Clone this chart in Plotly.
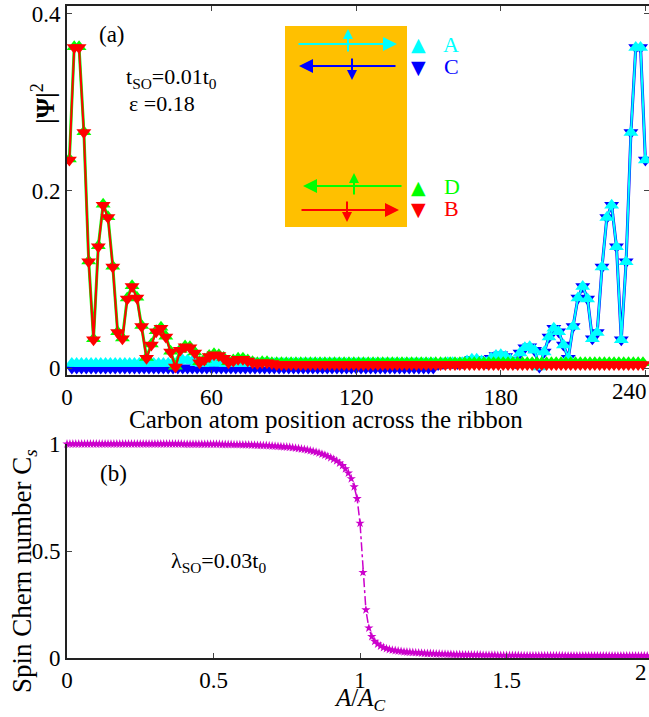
import plotly.graph_objects as go

# ---------------- data: panel (a) ----------------
atom_pos_odd = list(range(1, 240, 2))    # sites carrying B / D states
atom_pos_even = list(range(2, 241, 2))   # sites carrying A / C states

psi_B = [0.235, 0.362, 0.362, 0.266, 0.120, 0.032, 0.137, 0.184, 0.170, 0.114,
         0.040, 0.033, 0.078, 0.092, 0.079, 0.047, 0.011, 0.026, 0.041, 0.045,
         0.035, 0.018, 0.001, 0.020, 0.024, 0.023, 0.017, 0.006, 0.009, 0.013,
         0.015, 0.014, 0.011, 0.006, 0.008, 0.010, 0.010, 0.008, 0.006, 0.005,
         0.006, 0.006, 0.005, 0.004, 0.004, 0.004, 0.004, 0.004, 0.004, 0.004,
         0.004, 0.004, 0.004, 0.004, 0.004, 0.004, 0.004, 0.004, 0.004, 0.004,
         0.004, 0.004, 0.004, 0.004, 0.004, 0.004, 0.004, 0.004, 0.004, 0.004,
         0.004, 0.004, 0.004, 0.004, 0.004, 0.004, 0.004, 0.004, 0.004, 0.004,
         0.004, 0.004, 0.004, 0.004, 0.004, 0.004, 0.004, 0.004, 0.004, 0.004,
         0.004, 0.004, 0.004, 0.004, 0.004, 0.004, 0.004, 0.004, 0.004, 0.004,
         0.004, 0.004, 0.004, 0.004, 0.004, 0.004, 0.004, 0.004, 0.004, 0.004,
         0.004, 0.004, 0.004, 0.004, 0.004, 0.004, 0.004, 0.004, 0.004, 0.004]

psi_D = [0.236, 0.363, 0.363, 0.267, 0.121, 0.033, 0.138, 0.185, 0.171, 0.115,
         0.041, 0.034, 0.079, 0.093, 0.080, 0.048, 0.012, 0.027, 0.042, 0.046,
         0.036, 0.019, 0.002, 0.021, 0.025, 0.024, 0.018, 0.007, 0.010, 0.014,
         0.016, 0.015, 0.012, 0.007, 0.009, 0.011, 0.011, 0.009, 0.007, 0.006,
         0.007, 0.007, 0.006, 0.006, 0.006, 0.006, 0.006, 0.006, 0.006, 0.006,
         0.006, 0.006, 0.006, 0.006, 0.006, 0.006, 0.006, 0.006, 0.006, 0.006,
         0.006, 0.006, 0.006, 0.006, 0.006, 0.006, 0.006, 0.006, 0.006, 0.006,
         0.006, 0.006, 0.006, 0.006, 0.006, 0.006, 0.006, 0.006, 0.006, 0.006,
         0.006, 0.006, 0.006, 0.006, 0.006, 0.006, 0.006, 0.006, 0.006, 0.006,
         0.006, 0.006, 0.006, 0.006, 0.006, 0.006, 0.006, 0.006, 0.006, 0.006,
         0.006, 0.006, 0.006, 0.006, 0.006, 0.006, 0.006, 0.006, 0.006, 0.006,
         0.006, 0.006, 0.006, 0.006, 0.006, 0.006, 0.006, 0.006, 0.006, 0.006]

psi_A = [0.005, 0.005, 0.005, 0.005, 0.005, 0.005, 0.005, 0.005, 0.005, 0.005,
         0.005, 0.005, 0.005, 0.005, 0.005, 0.005, 0.005, 0.005, 0.005, 0.005,
         0.005, 0.006, 0.008, 0.009, 0.009, 0.008, 0.006, 0.005, 0.005, 0.006,
         0.006, 0.005, 0.005, 0.005, 0.005, 0.005, 0.005, 0.005, 0.005, 0.005,
         0.005, 0.005, 0.005, 0.005, 0.005, 0.005, 0.005, 0.005, 0.005, 0.005,
         0.005, 0.005, 0.005, 0.005, 0.005, 0.005, 0.005, 0.005, 0.005, 0.005,
         0.005, 0.005, 0.005, 0.005, 0.005, 0.005, 0.005, 0.005, 0.005, 0.005,
         0.005, 0.005, 0.005, 0.005, 0.005, 0.005, 0.004, 0.005, 0.006, 0.006,
         0.005, 0.006, 0.008, 0.010, 0.010, 0.008, 0.006, 0.011, 0.014, 0.015,
         0.013, 0.009, 0.006, 0.017, 0.023, 0.024, 0.020, 0.001, 0.018, 0.035,
         0.045, 0.041, 0.026, 0.011, 0.047, 0.079, 0.092, 0.078, 0.033, 0.040,
         0.114, 0.170, 0.184, 0.137, 0.032, 0.120, 0.266, 0.362, 0.362, 0.235]

psi_C = [0.000, 0.000, 0.000, 0.000, 0.000, 0.000, 0.000, 0.000, 0.000, 0.000,
         0.000, 0.000, 0.000, 0.000, 0.000, 0.000, 0.000, 0.000, 0.000, 0.000,
         0.000, 0.000, 0.000, 0.000, 0.000, 0.000, 0.000, 0.000, 0.000, 0.000,
         0.000, 0.000, 0.000, 0.000, 0.000, 0.000, 0.000, 0.000, 0.000, 0.000,
         0.000, 0.000, 0.000, 0.000, 0.000, 0.000, 0.000, 0.000, 0.000, 0.000,
         0.000, 0.000, 0.000, 0.000, 0.000, 0.000, 0.000, 0.000, 0.000, 0.000,
         0.000, 0.000, 0.000, 0.000, 0.000, 0.000, 0.000, 0.000, 0.000, 0.000,
         0.000, 0.000, 0.000, 0.000, 0.000, 0.000, 0.004, 0.005, 0.006, 0.006,
         0.005, 0.006, 0.008, 0.010, 0.010, 0.008, 0.006, 0.011, 0.014, 0.015,
         0.013, 0.009, 0.006, 0.017, 0.023, 0.024, 0.020, 0.001, 0.018, 0.035,
         0.045, 0.041, 0.026, 0.011, 0.047, 0.079, 0.092, 0.078, 0.033, 0.040,
         0.114, 0.170, 0.184, 0.137, 0.032, 0.120, 0.266, 0.362, 0.362, 0.235]

# ---------------- data: panel (b) ----------------
area_ratio = [i / 100 for i in range(201)]
spin_chern = [1.000, 1.000, 1.000, 1.000, 1.000, 1.000, 1.000, 1.000, 1.000, 1.000,
              1.000, 1.000, 1.000, 1.000, 1.000, 1.000, 1.000, 1.000, 1.000, 1.000,
              1.000, 1.000, 1.000, 1.000, 1.000, 1.000, 1.000, 1.000, 1.000, 1.000,
              1.000, 1.000, 1.000, 1.000, 1.000, 1.000, 1.000, 1.000, 1.000, 1.000,
              0.999, 0.999, 0.999, 0.999, 0.999, 0.999, 0.999, 0.999, 0.999, 0.999,
              0.999, 0.999, 0.999, 0.998, 0.998, 0.998, 0.998, 0.997, 0.997, 0.997,
              0.996, 0.996, 0.996, 0.995, 0.995, 0.994, 0.994, 0.993, 0.993, 0.992,
              0.991, 0.990, 0.989, 0.988, 0.987, 0.986, 0.985, 0.983, 0.981, 0.979,
              0.977, 0.975, 0.972, 0.969, 0.966, 0.962, 0.958, 0.953, 0.948, 0.942,
              0.936, 0.929, 0.921, 0.911, 0.899, 0.884, 0.864, 0.838, 0.800, 0.745,
              0.630, 0.400, 0.225, 0.140, 0.100, 0.078, 0.065, 0.056, 0.049, 0.044,
              0.040, 0.037, 0.035, 0.033, 0.031, 0.029, 0.028, 0.027, 0.026, 0.025,
              0.024, 0.023, 0.022, 0.021, 0.021, 0.020, 0.019, 0.019, 0.018, 0.018,
              0.017, 0.017, 0.016, 0.016, 0.016, 0.015, 0.015, 0.015, 0.014, 0.014,
              0.014, 0.014, 0.013, 0.013, 0.013, 0.013, 0.013, 0.012, 0.012, 0.012,
              0.012, 0.012, 0.012, 0.012, 0.012, 0.011, 0.011, 0.011, 0.011, 0.011,
              0.011, 0.011, 0.011, 0.011, 0.011, 0.011, 0.011, 0.011, 0.011, 0.011,
              0.010, 0.010, 0.010, 0.010, 0.010, 0.010, 0.010, 0.010, 0.010, 0.010,
              0.010, 0.010, 0.010, 0.010, 0.010, 0.010, 0.010, 0.010, 0.010, 0.010,
              0.010, 0.010, 0.010, 0.010, 0.010, 0.010, 0.010, 0.010, 0.010, 0.010,
              0.010]

x_ticks_a = [0, 60, 120, 180, 240]
x_ticktext_a = ['0', '60', '120', '180', '']
y_ticks_a = [0, 0.2, 0.4]
y_ticktext_a = ['0', '0.2', '0.4']
x_ticks_b = [0, 0.5, 1, 1.5]
x_ticktext_b = ['0', '0.5', '1', '1.5']
y_ticks_b = [0, 0.5, 1]
y_ticktext_b = ['0', '0.5', '1']

# ---------------- layout helpers ----------------
W, H = 649, 717
ML = 67
PW = W - ML
SERIF = 'Liberation Serif'


def px(x):
    return (x - ML) / PW


def py(y):
    return 1 - y / H


fig = go.Figure()

# panel (a) traces (drawing order: C, A, D, B)
fig.add_trace(go.Scatter(x=atom_pos_even, y=psi_C, mode='lines+markers', name='C',
                         line=dict(color='#0000FF', width=3),
                         marker=dict(symbol='triangle-down', size=13, color='#0000FF'),
                         xaxis='x', yaxis='y'))
fig.add_trace(go.Scatter(x=atom_pos_even, y=psi_A, mode='lines+markers', name='A',
                         line=dict(color='#00FFFF', width=2),
                         marker=dict(symbol='triangle-up', size=13, color='#00FFFF'),
                         xaxis='x', yaxis='y'))
fig.add_trace(go.Scatter(x=atom_pos_odd, y=psi_D, mode='lines+markers', name='D',
                         line=dict(color='#00FF00', width=3),
                         marker=dict(symbol='triangle-up', size=13, color='#00FF00'),
                         xaxis='x', yaxis='y'))
fig.add_trace(go.Scatter(x=atom_pos_odd, y=psi_B, mode='lines+markers', name='B',
                         line=dict(color='#FF0000', width=2),
                         marker=dict(symbol='triangle-down', size=13, color='#FF0000'),
                         xaxis='x', yaxis='y'))

# panel (b) trace
fig.add_trace(go.Scatter(x=area_ratio, y=spin_chern, mode='lines+markers', name='Cs',
                         line=dict(color='#CC00CC', width=1.5, dash='dashdot'),
                         marker=dict(symbol='star', size=7, color='#CC00CC'),
                         cliponaxis=False, xaxis='x2', yaxis='y2'))

TF = dict(family=SERIF, size=23, color='black')
common = dict(showgrid=False, zeroline=False, showline=True, linecolor='#222', linewidth=2,
              ticks='inside', ticklen=5, tickwidth=1, tickcolor='#444', tickfont=TF,
              automargin=False)

fig.update_layout(
    width=W, height=H,
    margin=dict(l=ML, r=0, t=0, b=0, pad=0, autoexpand=False),
    paper_bgcolor='white', plot_bgcolor='white',
    showlegend=False,
    xaxis=dict(domain=[0, 1], anchor='y', range=[0, 241.5], tickmode='array',
               tickvals=x_ticks_a, ticktext=x_ticktext_a, mirror='ticks', **common),
    yaxis=dict(domain=[py(375), py(6)], anchor='x', range=[-0.0079, 0.409], tickmode='array',
               tickvals=y_ticks_a, ticktext=y_ticktext_a, mirror='ticks', **common),
    xaxis2=dict(domain=[0, 1], anchor='y2', range=[0, 1.986], tickmode='array',
                tickvals=x_ticks_b, ticktext=x_ticktext_b, **common),
    yaxis2=dict(domain=[py(658), py(444)], anchor='x2', range=[0, 1], tickmode='array',
                tickvals=y_ticks_b, ticktext=y_ticktext_b, **common),
)

ann = []


def text(x, y, s, size=22, color='black', xanchor='center', angle=0, family=SERIF):
    ann.append(dict(x=px(x), y=py(y), xref='paper', yref='paper', text=s, showarrow=False,
                    xanchor=xanchor, yanchor='middle', textangle=angle,
                    font=dict(family=family, size=size, color=color)))


def arrow(hx, hy, tx, ty, color, size):
    ann.append(dict(x=px(hx), y=py(hy), xref='paper', yref='paper', text='',
                    showarrow=True, ax=tx - hx, ay=ty - hy, arrowhead=2, arrowsize=size,
                    arrowwidth=2, arrowcolor=color, standoff=0, startstandoff=0))


# axis titles
text(44, 104, '<b>|Ψ|</b><sup>2</sup>', size=26, angle=-90)
text(24, 571, 'Spin Chern number C<sub><i>s</i></sub>', size=27, angle=-90)
text(326, 419, 'Carbon atom position across the ribbon', size=25)
text(360, 699, '<i>A</i>/<i>A</i><sub><i>C</i></sub>', size=25)
# clipped last tick labels
ann.append(dict(x=1, y=py(391), xref='paper', yref='paper', text='240', showarrow=False,
                xanchor='right', yanchor='middle', font=TF))
ann.append(dict(x=1, y=py(672), xref='paper', yref='paper', text='2', showarrow=False,
                xanchor='right', yanchor='middle', font=TF))

# panel labels / parameters
text(112, 35, '(a)', size=23)
text(124, 78, 't<sub>SO</sub>=0.01t<sub>0</sub>', size=22, xanchor='left')
text(127, 104, 'ε =0.18', size=22, xanchor='left')
text(113, 473, '(b)', size=23)
text(169, 562, 'λ<sub>SO</sub>=0.03t<sub>0</sub>', size=22, xanchor='left')

# inset schematic
fig.add_shape(type='rect', xref='paper', yref='paper', x0=px(285), x1=px(407),
              y0=py(227), y1=py(26), fillcolor='#FFC000', line=dict(width=0), layer='above')

arrow(397, 44, 297, 44, '#00FFFF', 1.4)
arrow(348, 29, 348, 53, '#00FFFF', 1.0)
arrow(299, 66, 397, 66, '#0000FF', 1.4)
arrow(352, 80, 352, 57, '#0000FF', 1.0)
arrow(303, 186, 403, 186, '#00FF00', 1.4)
arrow(354, 173, 354, 196, '#00FF00', 1.0)
arrow(399, 210, 300, 210, '#FF0000', 1.4)
arrow(347, 222, 347, 200, '#FF0000', 1.0)

text(418, 44, '▲', size=19, color='#00FFFF', family='DejaVu Sans')
text(418, 67, '▼', size=19, color='#0000FF', family='DejaVu Sans')
text(418, 187, '▲', size=19, color='#00FF00', family='DejaVu Sans')
text(418, 209, '▼', size=19, color='#FF0000', family='DejaVu Sans')
text(451, 44, 'A', size=22, color='#00FFFF')
text(451, 67, 'C', size=22, color='#0000FF')
text(452, 187, 'D', size=22, color='#00FF00')
text(451, 209, 'B', size=22, color='#FF0000')

fig.update_layout(annotations=ann)
fig.write_html('out.html')
